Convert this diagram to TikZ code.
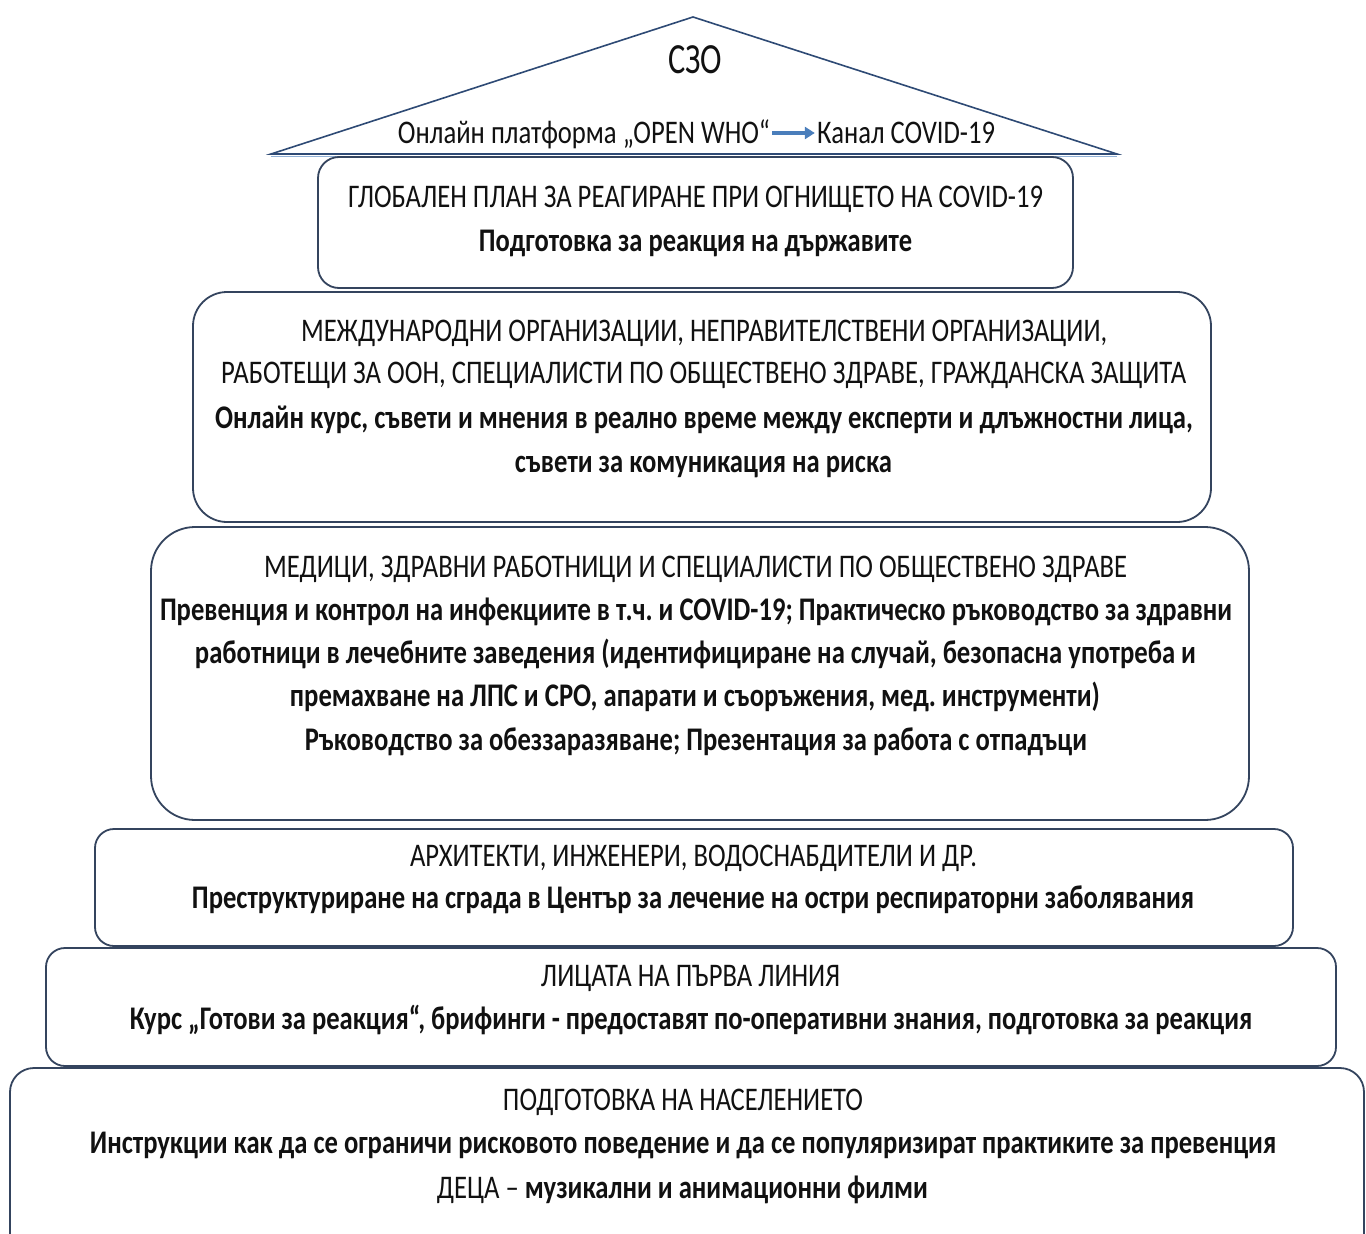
\documentclass[tikz,border=0pt]{standalone}
\usepackage{fontspec}
\setmainfont{Carlito}
\usepackage{graphicx}
\usetikzlibrary{arrows.meta}
\frenchspacing
\definecolor{edge}{HTML}{34445E}
\definecolor{roofc}{HTML}{2E4A75}
\definecolor{arrowblue}{HTML}{4A7EBB}
\definecolor{ink}{HTML}{111111}
\newcommand{\fitw}[2]{\resizebox{#1pt}{\height}{#2}}
\tikzset{
  tier/.style={draw=edge, line width=1.8pt, fill=white, inner sep=0pt, rectangle},
  txt/.style={inner sep=0pt, anchor=base, text=ink, font=\fontsize{33}{36}\selectfont},
  bt/.style={txt, font=\fontsize{33}{36}\selectfont\bfseries},
  roof/.style={draw=roofc, line width=1.6pt, line join=miter},
  flow/.style={-{Triangle[length=10pt,width=12pt]}, draw=arrowblue, line width=3.5pt}
}
\begin{document}
\begin{tikzpicture}[x=1pt,y=-1pt]
\useasboundingbox (0,0) rectangle (1366,1234);
\clip (0,0) rectangle (1366,1234);
\fill[white] (0,0) rectangle (1366,1234);

% roof
\coordinate (apex) at (693,17);
\coordinate (bl) at (271,154);
\coordinate (br) at (1117,154);
\draw[roof] (bl) -- (apex) -- (br) -- cycle;
\draw[arrowblue!60, line width=1.5pt] ([yshift=-2.5pt]bl) -- ([yshift=-2.5pt]br);

\node[txt, font=\fontsize{43}{46}\selectfont] (who) at (695,73) {\fitw{54}{СЗО}};
\node[txt] (ton) at (584,143) {\fitw{372}{Онлайн платформа „OPEN WHO“}};
\node[txt] (tkan) at (906,143) {\fitw{178}{Канал COVID-19}};
\draw[flow] ([shift={(2,-10)}]ton.base east) -- ([shift={(-2,-10)}]tkan.base west);

% box 6 (bottom)
\node[tier, rounded corners=24pt, minimum width=1354pt, minimum height=200pt] (b6) at (687,1168) {};
\node[txt] (b6a) at (683,1110) {\fitw{360}{ПОДГОТОВКА НА НАСЕЛЕНИЕТО}};
\node[bt] (b6b) at (683,1153) {\fitw{1186}{Инструкции как да се ограничи рисковото поведение и да се популяризират практиките за превенция}};
\node[txt] (b6c) at (682.5,1198) {\fitw{491}{ДЕЦА – \textbf{музикални и анимационни филми}}};

% box 5
\node[tier, rounded corners=19pt, minimum width=1290pt, minimum height=118pt] (b5) at (691,1007) {};
\node[txt] (b5a) at (690.5,986) {\fitw{299}{ЛИЦАТА НА ПЪРВА ЛИНИЯ}};
\node[bt] (b5b) at (691,1029) {\fitw{1122}{Курс „Готови за реакция“, брифинги - предоставят по-оперативни знания, подготовка за реакция}};

% box 4
\node[tier, rounded corners=19pt, minimum width=1198pt, minimum height=117pt] (b4) at (694,887.5) {};
\node[txt] (b4a) at (693.5,866) {\fitw{567}{АРХИТЕКТИ, ИНЖЕНЕРИ, ВОДОСНАБДИТЕЛИ И ДР.}};
\node[bt] (b4b) at (693,908) {\fitw{1002}{Преструктуриране на сграда в Център за лечение на остри респираторни заболявания}};

% box 3
\node[tier, rounded corners=44pt, minimum width=1098pt, minimum height=293pt] (b3) at (700,673.5) {};
\node[txt] (b3a) at (695.5,577) {\fitw{863}{МЕДИЦИ, ЗДРАВНИ РАБОТНИЦИ И СПЕЦИАЛИСТИ ПО ОБЩЕСТВЕНО ЗДРАВЕ}};
\node[bt] (b3b) at (696,620) {\fitw{1072}{Превенция и контрол на инфекциите в т.ч. и COVID-19; Практическо ръководство за здравни}};
\node[bt] (b3c) at (695.5,663) {\fitw{1001}{работници в лечебните заведения (идентифициране на случай, безопасна употреба и}};
\node[bt] (b3d) at (695,706) {\fitw{810}{премахване на ЛПС и СРО, апарати и съоръжения, мед. инструменти)}};
\node[bt] (b3e) at (696,750) {\fitw{782}{Ръководство за обеззаразяване; Презентация за работа с отпадъци}};

% box 2
\node[tier, rounded corners=34pt, minimum width=1018pt, minimum height=230pt] (b2) at (702,407) {};
\node[txt] (b2a) at (704,341) {\fitw{806}{МЕЖДУНАРОДНИ ОРГАНИЗАЦИИ, НЕПРАВИТЕЛСТВЕНИ ОРГАНИЗАЦИИ,}};
\node[txt] (b2b) at (703.5,383) {\fitw{965}{РАБОТЕЩИ ЗА ООН, СПЕЦИАЛИСТИ ПО ОБЩЕСТВЕНО ЗДРАВЕ, ГРАЖДАНСКА ЗАЩИТА}};
\node[bt] (b2c) at (704,428) {\fitw{978}{Онлайн курс, съвети и мнения в реално време между експерти и длъжностни лица,}};
\node[bt] (b2d) at (703.5,472) {\fitw{377}{съвети за комуникация на риска}};

% box 1
\node[tier, rounded corners=21pt, minimum width=755pt, minimum height=131pt] (b1) at (695.5,222.5) {};
\node[txt] (b1a) at (695.5,207) {\fitw{695}{ГЛОБАЛЕН ПЛАН ЗА РЕАГИРАНЕ ПРИ ОГНИЩЕТО НА COVID-19}};
\node[bt] (b1b) at (695.5,251.5) {\fitw{433}{Подготовка за реакция на държавите}};
\end{tikzpicture}
\end{document}
